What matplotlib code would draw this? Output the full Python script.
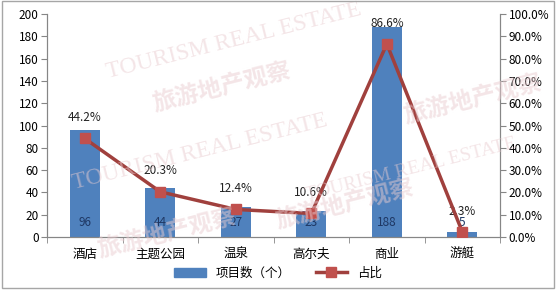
import matplotlib.pyplot as plt
import matplotlib.patches as mpatches
from matplotlib.lines import Line2D

plt.rcParams['font.family'] = ['Noto Sans CJK SC', 'DejaVu Sans']

categories = ["酒店", "主题公园", "温泉", "高尔夫", "商业", "游艇"]
counts = [96, 44, 27, 23, 188, 5]
shares = [44.2, 20.3, 12.4, 10.6, 86.6, 2.3]
left_ticks = list(range(0, 201, 20))
right_ticks = list(range(0, 101, 10))

bar_color = "#4f81bd"
line_color = "#a0403d"
marker_color = "#c0504d"
axis_color = "#868686"

fig = plt.figure(figsize=(5.56, 2.92), dpi=100)
ax = fig.add_axes([0.0845, 0.188, 0.815, 0.764])
ax2 = ax.twinx()

# faint watermark
wm = dict(color="#e9ccd0", alpha=0.5, rotation=14, ha="center", va="center",
          zorder=0, transform=fig.transFigure)
fig.text(0.42, 0.86, "TOURISM REAL ESTATE", family="Liberation Serif", fontsize=17, **wm)
fig.text(0.40, 0.70, "旅游地产观察", fontsize=17, fontweight="bold", **wm)
fig.text(0.85, 0.66, "旅游地产观察", fontsize=17, fontweight="bold", **wm)
fig.text(0.36, 0.48, "TOURISM REAL ESTATE", family="Liberation Serif", fontsize=17, **wm)
fig.text(0.74, 0.42, "TOURISM REAL ESTATE", family="Liberation Serif", fontsize=14, **wm)
fig.text(0.62, 0.30, "旅游地产观察", fontsize=17, fontweight="bold", **wm)
fig.text(0.30, 0.20, "旅游地产观察", fontsize=17, fontweight="bold", **wm)

x = list(range(len(categories)))
ax.bar(x, counts, width=0.4, color=bar_color, zorder=2)
for xi, c in zip(x, counts):
    ax.text(xi, 13, str(c), ha="center", va="center", fontsize=8.5, color="#1f3864", zorder=3)

ax.set_ylim(0, 200)
ax.set_yticks(left_ticks)
ax.set_xlim(-0.5, len(categories) - 0.5)
ax.set_xticks(x)
ax.set_xticklabels(categories, fontsize=9)
ax.set_xticks([i - 0.5 for i in range(len(categories) + 1)], minor=True)
ax.tick_params(axis="x", which="major", length=0, pad=8)
ax.tick_params(axis="x", which="minor", length=4, color=axis_color)
ax.tick_params(axis="y", labelsize=8.5, length=4, color=axis_color, pad=2)

ax2.plot(x, shares, color=line_color, linewidth=2.5, marker="s", markersize=7,
         markerfacecolor=marker_color, markeredgecolor=marker_color, zorder=4)
for xi, s in zip(x, shares):
    ax2.annotate(f"{s:.1f}%", (xi, s), xytext=(0, 15), textcoords="offset points",
                 ha="center", va="center", fontsize=8.5, color="#222222")
ax2.set_ylim(0, 100)
ax2.set_yticks(right_ticks)
ax2.set_yticklabels([f"{t:.1f}%" for t in right_ticks])
ax2.tick_params(axis="y", labelsize=8.5, length=4, color=axis_color, pad=2)

for a in (ax, ax2):
    a.patch.set_visible(False)
    a.spines["top"].set_visible(False)
    for s in ("left", "right", "bottom"):
        a.spines[s].set_color(axis_color)

handles = [mpatches.Patch(color=bar_color, label="项目数（个）"),
           Line2D([0], [0], color=line_color, linewidth=2.5, marker="s", markersize=7,
                  markerfacecolor=marker_color, markeredgecolor=marker_color, label="占比")]
fig.legend(handles=handles, loc="center", bbox_to_anchor=(0.5, 0.065), ncol=2,
           frameon=False, fontsize=9, handlelength=2.5, columnspacing=2.0)

fig.patches.append(mpatches.Rectangle((0.004, 0.012), 0.992, 0.985, transform=fig.transFigure,
                                      fill=False, edgecolor="#a6a6a6", linewidth=1))

plt.savefig("out.png", dpi=100)
